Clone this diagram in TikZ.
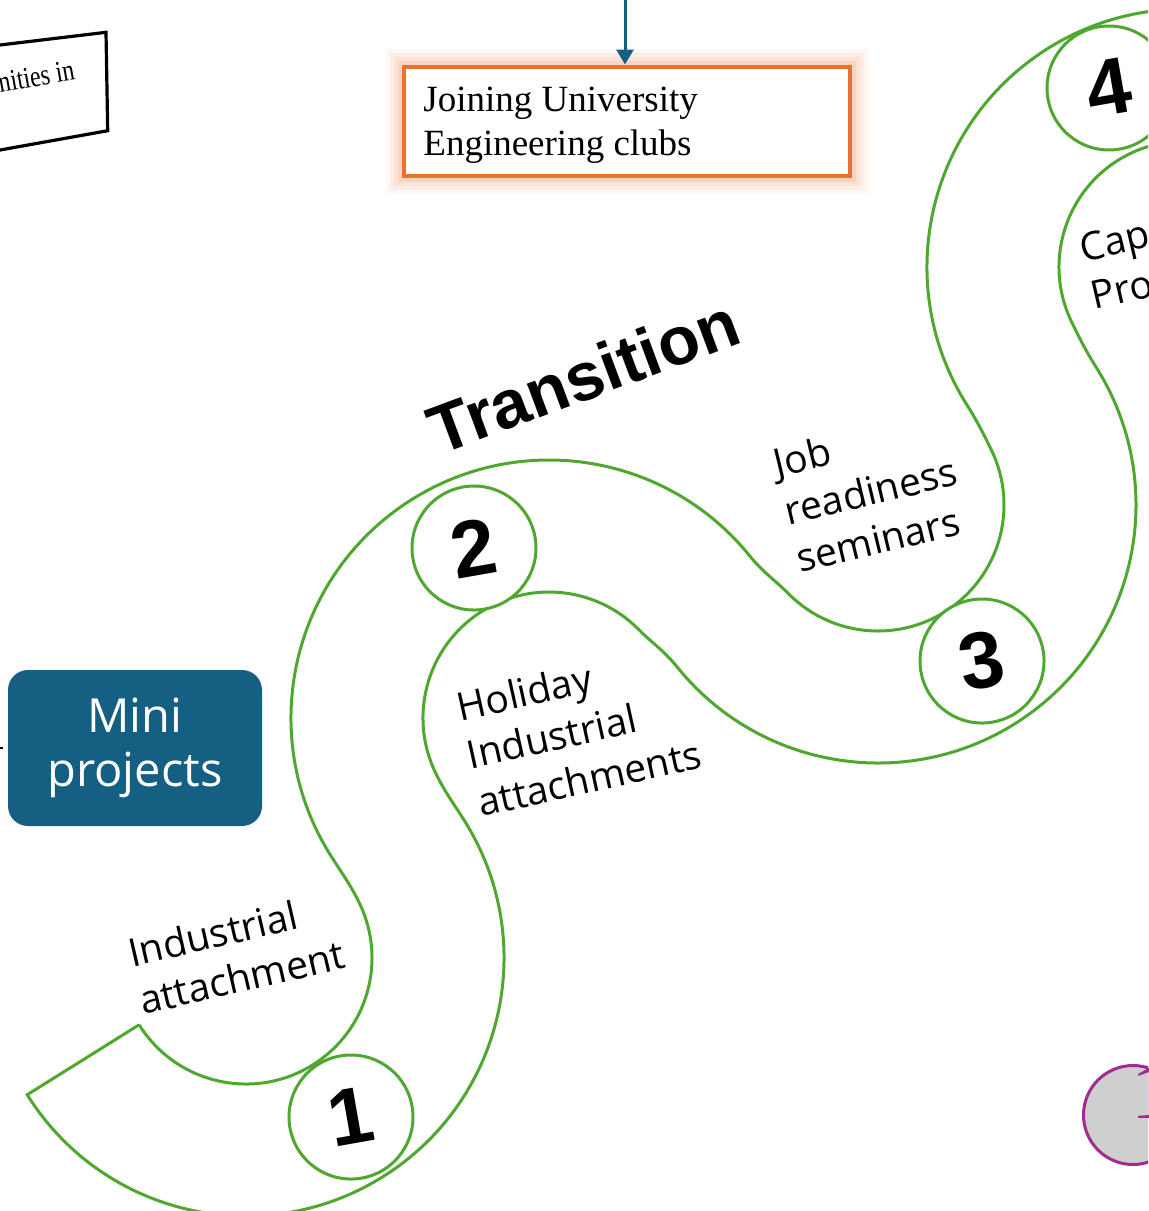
\documentclass[tikz,border=0pt]{standalone}
\usepackage{fontspec}
\usepackage{tikz}
\usetikzlibrary{arrows.meta,calc}
\setmainfont{Liberation Serif}
\newfontfamily\labelfont{Open Sans}
\newfontfamily\headfont{Liberation Sans}
\definecolor{roadgreen}{RGB}{78,167,46}
\definecolor{miniblue}{RGB}{21,96,130}
\definecolor{cluborange}{RGB}{233,113,50}
\definecolor{ringpurple}{RGB}{160,43,147}
\definecolor{ringgray}{RGB}{207,207,207}

\begin{document}
\begin{tikzpicture}[x=0.5pt, y=0.5pt,
		wall_style/.style={draw=roadgreen, line width=1.5pt},
		step_style/.style={circle, draw=roadgreen, fill=white, line width=1.5pt, minimum size=62pt, inner sep=0pt, rotate=10, font=\headfont\bfseries\fontsize{40}{40}\selectfont},
		label_style/.style={anchor=base west, align=left, inner sep=0pt, font=\labelfont\fontsize{19.5}{24.5}\selectfont},
		mini_style/.style={rectangle, rounded corners=10pt, fill=miniblue, text=white, minimum width=127pt, minimum height=78pt, align=center, font=\labelfont\fontsize{23.5}{26.7}\selectfont},
		club_style/.style={rectangle, draw=cluborange, line width=2pt, fill=white, minimum width=223pt, minimum height=54.5pt,
			preaction={draw=cluborange!70, line width=18pt, opacity=0.08},
			preaction={draw=cluborange!70, line width=14pt, opacity=0.1},
			preaction={draw=cluborange!70, line width=10pt, opacity=0.14},
			preaction={draw=cluborange!70, line width=6pt, opacity=0.2}},
		edge_style/.style={draw=miniblue, line width=1.5pt, -{Triangle[length=7.5pt,width=8.5pt]}}]

		\useasboundingbox (0,0) rectangle (1148,-1211);
		\clip (0,0) rectangle (1148,-1211);

		% centres of the four bends
		\coordinate (c1) at (246,-958);
		\coordinate (c2) at (549,-718);
		\coordinate (c3) at (878,-505);
		\coordinate (c4) at (1185,-267);

		% the two walls of the winding road
		\draw[wall_style] ($(c1)+(212:126)$) arc[start angle=212, end angle=386, radius=126]
			to[out=116, in=302] ($(c2)+(212:258)$) arc[start angle=212, end angle=39, radius=258]
			to[out=-51, in=135] ($(c3)+(225:126)$) arc[start angle=225, end angle=386, radius=126]
			to[out=116, in=302] ($(c4)+(212:258)$) arc[start angle=212, end angle=60, radius=258];
		\draw[wall_style] ($(c1)+(212:126)$) -- ($(c1)+(212:258)$) arc[start angle=212, end angle=392, radius=258]
			to[out=122, in=296] ($(c2)+(206:126)$) arc[start angle=206, end angle=45, radius=126]
			to[out=-45, in=129] ($(c3)+(219:258)$) arc[start angle=219, end angle=392, radius=258]
			to[out=122, in=296] ($(c4)+(206:126)$) arc[start angle=206, end angle=20, radius=126];

		\node[step_style] (s1) at (351,-1117) {1};
		\node[step_style] (s2) at (474,-548) {2};
		\node[step_style] (s3) at (982,-661) {3};
		\node[step_style] (s4) at (1109,-88) {4};

		\node[label_style, rotate=13] (lab1) at (143,-1015) {Industrial\\attachment};
		\node[label_style, rotate=12.5] (lab2) at (481,-817) {Holiday\\Industrial\\attachments};
		\node[label_style, rotate=13.5] (lab3) at (800,-573) {Job\\readiness\\seminars};
		\node[label_style, rotate=13] (lab4) at (1094,-310) {Cap\\Pro};

		\node[anchor=base, rotate=20.4, inner sep=0pt, font=\headfont\bfseries\fontsize{34}{34}\selectfont] (trans) at (592,-398.5) {Transition};

		\node[mini_style] (mini) at (135,-748) {Mini\\projects};
		\coordinate (minifeed) at (-10,-748);
		\draw[black, line width=1.3pt, shorten >=2.5pt] (minifeed) -- (mini.west);

		\node[club_style] (clubs) at (627,-121) {};
		\node[anchor=base west, align=left, inner sep=0pt, font=\fontsize{18.5}{21.7}\selectfont] (clubtext) at (423,-155) {Joining University\\Engineering clubs};
		\coordinate (feed) at (625,0);
		\draw[edge_style] (feed) -- (feed |- clubs.north);

		% tilted box cut by the left edge
		\draw[black, line width=1.6pt] (-10,-46.2) -- (106,-32.3) -- (107.7,-130.7) -- (-10,-151.8);
		\node[anchor=base east, rotate=10, xscale=0.8, inner sep=0pt, font=\fontsize{15}{18}\selectfont] (opp) at (76,-79.3) {nities in};

		\node[circle, draw=ringpurple, fill=ringgray, line width=1.5pt, minimum size=49.5pt] (ring) at (1133,-1115) {};
		\node[anchor=base west, inner sep=0pt, text=ringpurple, font=\fontsize{40}{40}\selectfont] (ringtext) at (1131,-1118) {1};

\end{tikzpicture}
\end{document}
